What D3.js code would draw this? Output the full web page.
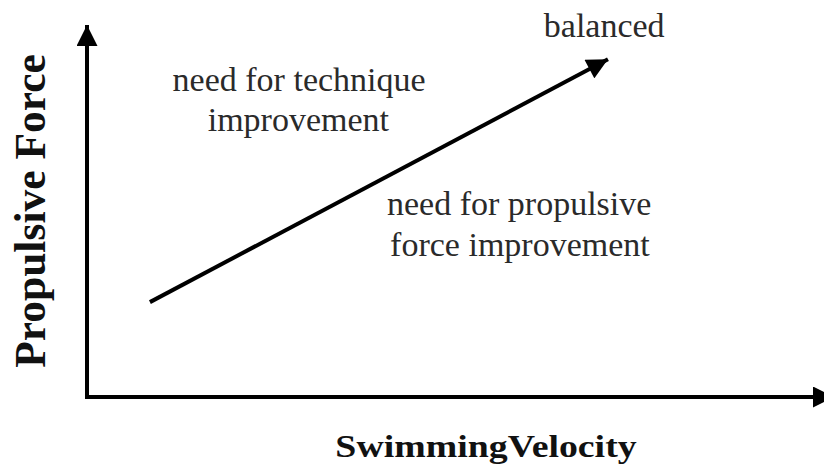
<!DOCTYPE html>
<html>
<head>
<meta charset="utf-8">
<script src="https://cdn.jsdelivr.net/npm/d3@7"></script>
<style>
body { margin: 0; background: #fff; }
svg { display: block; }
</style>
</head>
<body>
<div id="chart"></div>
<script>
// conceptual diagram, axes run 0..10 with no ticks
var trendLine = [[0.83, 2.55], [6.97, 9.08]];
var annotations = [
	{x: 2.83, y: 8.23, text: 'need for technique'},
	{x: 2.82, y: 7.15, text: 'improvement'},
	{x: 6.92, y: 9.68, text: 'balanced'},
	{x: 5.78, y: 4.89, text: 'need for propulsive'},
	{x: 5.79, y: 3.79, text: 'force improvement'}
];
var xTitle = 'Swimming Velocity';
var yTitle = 'Propulsive Force';

var width = 824, height = 471;
var serif = 'Liberation Serif, DejaVu Serif, serif';

var svg = d3.select('#chart').append('svg')
	.attr('width', width)
	.attr('height', height);

var x = d3.scaleLinear().domain([0, 10]).range([88, 834]);
var y = d3.scaleLinear().domain([0, 10]).range([397, 25]);

var defs = svg.append('defs');
defs.append('marker')
	.attr('id', 'arrow')
	.attr('viewBox', '0 0 10 10')
	.attr('refX', 10)
	.attr('refY', 5)
	.attr('markerUnits', 'userSpaceOnUse')
	.attr('markerWidth', 22)
	.attr('markerHeight', 21)
	.attr('orient', 'auto')
	.append('path')
	.attr('d', 'M0,0 L10,5 L0,10 Z')
	.attr('fill', '#000');

// axes
svg.append('line')
	.attr('x1', x(0) - 1).attr('y1', y(0) + 2)
	.attr('x2', x(0) - 1).attr('y2', y(10))
	.attr('stroke', '#000')
	.attr('stroke-width', 4)
	.attr('marker-end', 'url(#arrow)');

svg.append('line')
	.attr('x1', x(0) - 3).attr('y1', y(0))
	.attr('x2', x(10)).attr('y2', y(0))
	.attr('stroke', '#000')
	.attr('stroke-width', 4)
	.attr('marker-end', 'url(#arrow)');

// trend arrow
svg.append('path')
	.datum(trendLine)
	.attr('d', d3.line().x(function(d) { return x(d[0]); }).y(function(d) { return y(d[1]); }))
	.attr('fill', 'none')
	.attr('stroke', '#000')
	.attr('stroke-width', 4)
	.attr('marker-end', 'url(#arrow)');

svg.selectAll('text.note')
	.data(annotations)
	.enter()
	.append('text')
	.attr('class', 'note')
	.attr('x', function(d) { return x(d.x); })
	.attr('y', function(d) { return y(d.y); })
	.attr('text-anchor', 'middle')
	.attr('font-family', serif)
	.attr('font-size', '34px')
	.attr('fill', '#2a2a2a')
	.text(function(d) { return d.text; });

svg.append('text')
	.attr('transform', 'translate(486,457) scale(1.22,1)')
	.attr('text-anchor', 'middle')
	.attr('font-family', serif)
	.attr('font-weight', '700')
	.attr('font-size', '31px')
	.attr('word-spacing', '-7px')
	.attr('fill', '#111')
	.text(xTitle);

svg.append('text')
	.attr('transform', 'translate(45,211) rotate(-90)')
	.attr('text-anchor', 'middle')
	.attr('font-family', serif)
	.attr('font-weight', '700')
	.attr('font-size', '43.5px')
	.attr('fill', '#111')
	.text(yTitle);
</script>
</body>
</html>
